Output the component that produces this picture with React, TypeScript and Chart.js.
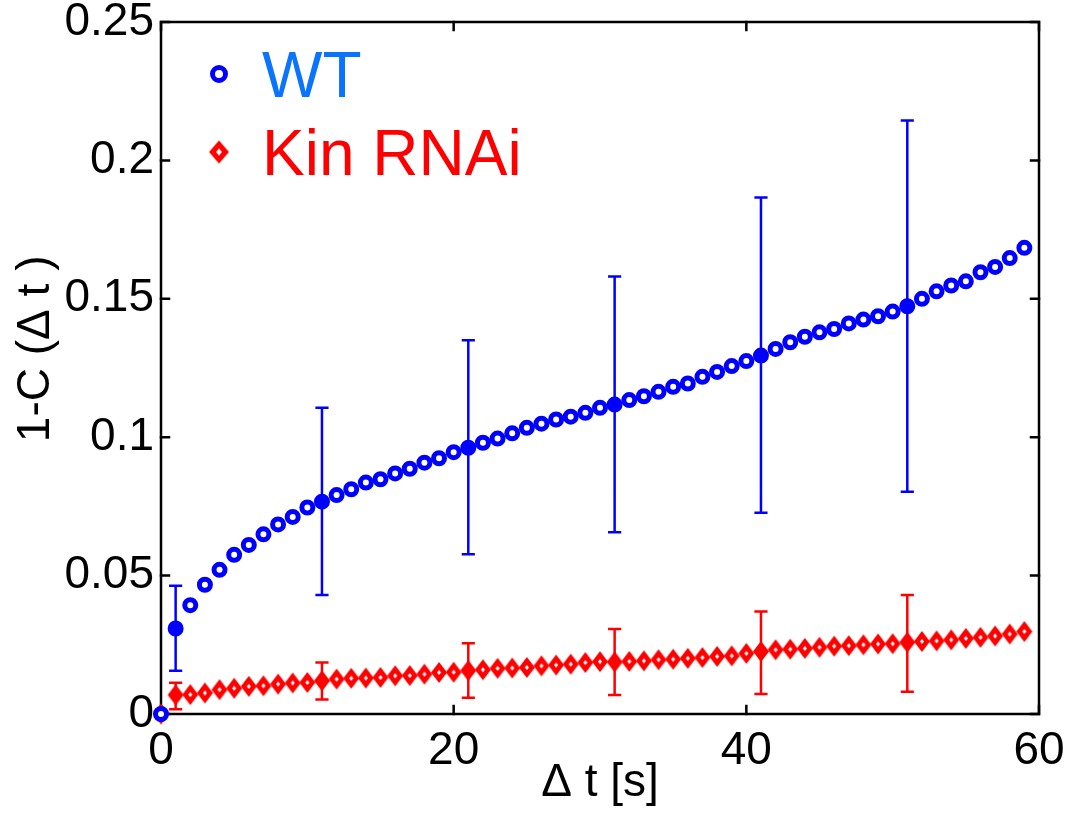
import React, { useEffect, useRef } from 'react';
import { Chart, registerables } from 'chart.js';

Chart.register(...registerables);

// ---- data ----
const dtValues = [
  0, 1, 2, 3, 4, 5, 6, 7, 8, 9, 10, 11, 12, 13, 14, 15, 16, 17, 18, 19,
  20, 21, 22, 23, 24, 25, 26, 27, 28, 29, 30, 31, 32, 33, 34, 35, 36, 37, 38, 39,
  40, 41, 42, 43, 44, 45, 46, 47, 48, 49, 50, 51, 52, 53, 54, 55, 56, 57, 58, 59,
];

const wtValues = [
  0, 0.0309, 0.0393, 0.0467, 0.0521, 0.0575, 0.0611, 0.0649, 0.0685, 0.0712,
  0.0746, 0.0767, 0.0791, 0.0812, 0.0836, 0.0848, 0.0869, 0.0886, 0.0908, 0.0924,
  0.0946, 0.0962, 0.098, 0.0995, 0.1014, 0.1034, 0.1049, 0.1064, 0.1074, 0.1088,
  0.1106, 0.1118, 0.1134, 0.1148, 0.1164, 0.1182, 0.1194, 0.1218, 0.1236, 0.1257,
  0.1275, 0.1295, 0.1319, 0.1343, 0.1363, 0.1379, 0.1391, 0.1411, 0.1425, 0.1437,
  0.1454, 0.1473, 0.15, 0.1527, 0.1548, 0.1563, 0.1596, 0.1615, 0.1647, 0.1684,
];

const kinValues = [
  0, 0.0069, 0.007, 0.0076, 0.0088, 0.0093, 0.01, 0.0102, 0.0108, 0.0112,
  0.0114, 0.012, 0.0126, 0.0129, 0.013, 0.0132, 0.0138, 0.0139, 0.0144, 0.015,
  0.0151, 0.0157, 0.016, 0.0165, 0.0166, 0.0168, 0.0174, 0.0177, 0.018, 0.0186,
  0.0189, 0.0188, 0.019, 0.0192, 0.0196, 0.0198, 0.0201, 0.0204, 0.0208, 0.021,
  0.0219, 0.0226, 0.0232, 0.0234, 0.0237, 0.0241, 0.0245, 0.0247, 0.025, 0.0253,
  0.0254, 0.0259, 0.0262, 0.0264, 0.0268, 0.0273, 0.0277, 0.0282, 0.0289, 0.0298,
];

const errorX = [1, 11, 21, 31, 41, 51];
const wtErrLow = [0.0156, 0.043, 0.0577, 0.0657, 0.0727, 0.0803];
const wtErrHigh = [0.0463, 0.1106, 0.135, 0.1581, 0.1866, 0.2144];
const kinErrLow = [0.0017, 0.0052, 0.0059, 0.0069, 0.0072, 0.008];
const kinErrHigh = [0.0113, 0.0186, 0.0256, 0.0307, 0.037, 0.043];

const xTickLabels = ['0', '20', '40', '60'];
const yTickLabels = ['0', '0.05', '0.1', '0.15', '0.2', '0.25'];

const seriesNames = ['WT', 'Kin RNAi'];

// ---- styles ----
const BLUE = '#0000ff';
const RED = '#ff0000';
const WT_TEXT = '#0a74ff';
const FONT = '"Liberation Sans", Arial, sans-serif';
const CAP_HALF = 0.45;

function makeDiamond(hw: number, hh: number, ihw: number, ihh: number, filled: boolean) {
  const c = document.createElement('canvas');
  c.width = Math.ceil(hw * 2 + 2);
  c.height = Math.ceil(hh * 2 + 2);
  const g = c.getContext('2d')!;
  const cx = c.width / 2;
  const cy = c.height / 2;
  g.fillStyle = RED;
  g.beginPath();
  g.moveTo(cx, cy - hh);
  g.lineTo(cx + hw, cy);
  g.lineTo(cx, cy + hh);
  g.lineTo(cx - hw, cy);
  g.closePath();
  g.fill();
  if (!filled) {
    g.fillStyle = '#ffffff';
    g.beginPath();
    g.moveTo(cx, cy - ihh);
    g.lineTo(cx + ihw, cy);
    g.lineTo(cx, cy + ihh);
    g.lineTo(cx - ihw, cy);
    g.closePath();
    g.fill();
  }
  return c;
}

function errorSegments(xs: number[], lo: number[], hi: number[]) {
  const pts: { x: number; y: number | null }[] = [];
  xs.forEach((x, i) => {
    pts.push({ x: x - CAP_HALF, y: hi[i] }, { x: x + CAP_HALF, y: hi[i] }, { x, y: null });
    pts.push({ x, y: hi[i] }, { x, y: lo[i] }, { x, y: null });
    pts.push({ x: x - CAP_HALF, y: lo[i] }, { x: x + CAP_HALF, y: lo[i] }, { x, y: null });
  });
  return pts;
}

export default function App() {
  const ref = useRef<HTMLCanvasElement | null>(null);

  useEffect(() => {
    if (!ref.current) return;
    const dOpen = makeDiamond(8, 10.5, 2, 2.6, false);
    const dFilled = makeDiamond(8, 10.5, 0, 0, true);
    const dLegend = makeDiamond(10, 11.5, 3, 3.5, false);

    const framePlugin = {
      id: 'frame',
      beforeDatasetsDraw(chart: any) {
        const { ctx, chartArea: a, scales } = chart;
        ctx.save();
        ctx.strokeStyle = '#000';
        ctx.lineWidth = 2.5;
        ctx.lineCap = 'square';
        ctx.strokeRect(a.left, a.top, a.right - a.left, a.bottom - a.top);
        const tl = 8;
        ctx.beginPath();
        scales.x.ticks.forEach((t: any) => {
          const px = scales.x.getPixelForValue(t.value);
          ctx.moveTo(px, a.bottom);
          ctx.lineTo(px, a.bottom - tl);
          ctx.moveTo(px, a.top);
          ctx.lineTo(px, a.top + tl);
        });
        scales.y.ticks.forEach((t: any) => {
          const py = scales.y.getPixelForValue(t.value);
          ctx.moveTo(a.left, py);
          ctx.lineTo(a.left + tl, py);
          ctx.moveTo(a.right, py);
          ctx.lineTo(a.right - tl, py);
        });
        ctx.stroke();
        ctx.restore();
      },
    };

    const legendPlugin = {
      id: 'insideLegend',
      afterDraw(chart: any) {
        const { ctx, chartArea: a } = chart;
        ctx.save();
        const mx = a.left + 58;
        const y1 = a.top + 52;
        const y2 = a.top + 130;
        ctx.beginPath();
        ctx.arc(mx, y1, 6.5, 0, Math.PI * 2);
        ctx.fillStyle = '#fff';
        ctx.fill();
        ctx.lineWidth = 5;
        ctx.strokeStyle = BLUE;
        ctx.stroke();
        ctx.drawImage(dLegend, mx - dLegend.width / 2, y2 - dLegend.height / 2);
        ctx.font = `64px ${FONT}`;
        ctx.textBaseline = 'alphabetic';
        ctx.textAlign = 'left';
        ctx.fillStyle = WT_TEXT;
        ctx.fillText(seriesNames[0], a.left + 101, a.top + 75);
        ctx.fillStyle = RED;
        ctx.fillText(seriesNames[1], a.left + 101, a.top + 153);
        ctx.restore();
      },
    };

    const isErr = (i: number) => errorX.includes(dtValues[i]);

    const chart = new Chart(ref.current, {
      type: 'line',
      data: {
        datasets: [
          {
            label: seriesNames[0],
            data: dtValues.map((x, i) => ({ x, y: wtValues[i] })),
            showLine: false,
            pointStyle: 'circle',
            pointRadius: 5.5,
            pointBorderWidth: 5,
            pointBorderColor: BLUE,
            pointBackgroundColor: (c: any) => (isErr(c.dataIndex) ? BLUE : '#ffffff'),
            borderColor: BLUE,
            order: 0,
            clip: false,
          } as any,
          {
            label: seriesNames[1],
            data: dtValues.map((x, i) => ({ x, y: kinValues[i] })),
            showLine: false,
            pointStyle: (c: any) => (isErr(c.dataIndex) ? dFilled : dOpen),
            pointRadius: 9,
            borderColor: RED,
            order: 1,
            clip: false,
          } as any,
          {
            label: 'WT error',
            data: errorSegments(errorX, wtErrLow, wtErrHigh),
            borderColor: BLUE,
            borderWidth: 2.5,
            pointRadius: 0,
            spanGaps: false,
            order: 2,
          } as any,
          {
            label: 'Kin error',
            data: errorSegments(errorX, kinErrLow, kinErrHigh),
            borderColor: RED,
            borderWidth: 2.5,
            pointRadius: 0,
            spanGaps: false,
            order: 3,
          } as any,
        ],
      },
      options: {
        responsive: false,
        animation: false,
        devicePixelRatio: 1,
        layout: { padding: { top: 22, right: 31, left: 0, bottom: 0 } },
        plugins: {
          legend: { display: false },
          tooltip: { enabled: false },
        },
        scales: {
          x: {
            type: 'linear',
            min: 0,
            max: 60,
            grid: { display: false, drawTicks: false },
            border: { display: false },
            ticks: {
              stepSize: 20,
              padding: 10,
              color: '#000',
              font: { family: FONT, size: 46 },
              maxRotation: 0,
              callback: (_v: any, i: number) => xTickLabels[i],
            },
            title: {
              display: true,
              text: 'Δ t [s]',
              color: '#000',
              font: { family: FONT, size: 46 },
              padding: { top: 0, bottom: 2 },
            },
            afterFit: (s: any) => {
              s.height = 99;
              s.paddingLeft = 0;
              s.paddingRight = 0;
              s.paddingTop = 0;
              s.paddingBottom = 0;
            },
          },
          y: {
            type: 'linear',
            min: 0,
            max: 0.25,
            grid: { display: false, drawTicks: false },
            border: { display: false },
            ticks: {
              stepSize: 0.05,
              padding: 7,
              color: '#000',
              font: { family: FONT, size: 46 },
              callback: (_v: any, i: number) => yTickLabels[i],
            },
            title: {
              display: true,
              text: '   1-C (Δ t )',
              color: '#000',
              font: { family: FONT, size: 46 },
              padding: { top: 9, bottom: 0 },
            },
            afterFit: (s: any) => {
              s.width = 161;
              s.paddingLeft = 0;
              s.paddingRight = 0;
              s.paddingTop = 0;
              s.paddingBottom = 0;
            },
          },
        },
      } as any,
      plugins: [framePlugin, legendPlugin],
    });

    return () => chart.destroy();
  }, []);

  return (
    <div style={{ position: 'fixed', left: 0, top: 0, width: 1070, height: 813, background: '#fff' }}>
      <canvas ref={ref} width={1070} height={813} style={{ width: 1070, height: 813 }} />
    </div>
  );
}
